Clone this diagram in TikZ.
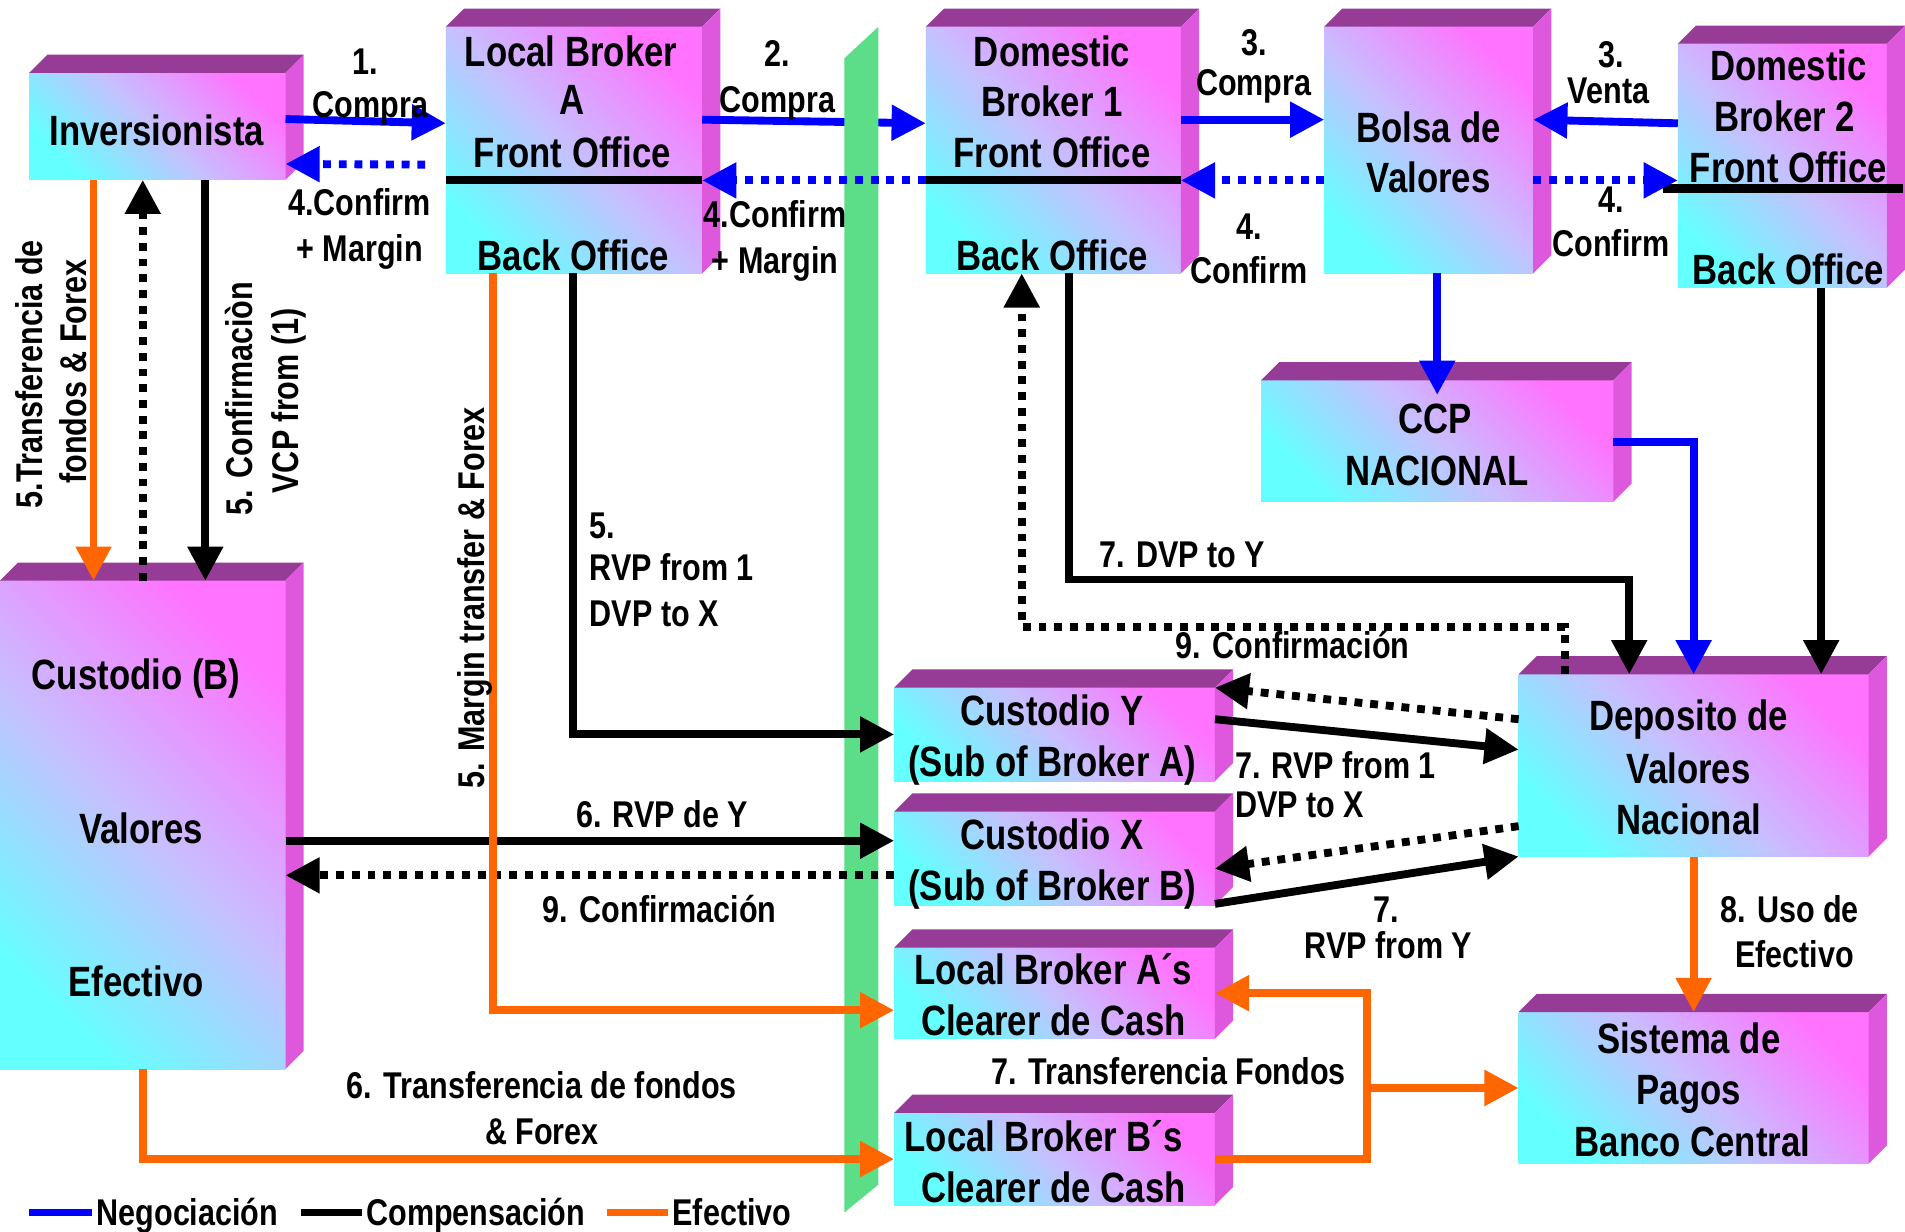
\documentclass[tikz,border=0pt]{standalone}
\usepackage{fontspec}
\setmainfont{Liberation Sans}[FakeStretch=0.82]
\usetikzlibrary{arrows.meta,calc,fit}

\definecolor{topc}{RGB}{150,60,150}
\definecolor{sidec}{RGB}{222,88,222}
\definecolor{cyanc}{RGB}{100,255,255}
\definecolor{lavc}{RGB}{200,190,255}
\definecolor{pinkc}{RGB}{255,115,255}
\definecolor{barc}{RGB}{92,222,137}
\definecolor{negc}{RGB}{0,0,255}
\definecolor{cashc}{RGB}{255,102,0}

\newcommand\bxfont{\fontsize{12.4}{15}\selectfont\bfseries}
\newcommand\lbfont{\fontsize{10.9}{13}\selectfont\bfseries}

% top and right faces of a box node
\newcommand\cubefaces[1]{%
  \fill[topc] (#1.north west) -- ($(#1.north west)+(15,-15)$) -- ($(#1.north east)+(15,-15)$) -- (#1.north east) -- cycle;
  \fill[sidec] (#1.north east) -- ($(#1.north east)+(15,-15)$) -- ($(#1.south east)+(15,-15)$) -- (#1.south east) -- cycle;
}

\begin{document}
\begin{tikzpicture}[x=0.0125cm, y=-0.0125cm,
  boxface/.style={inner sep=0pt, outer sep=0pt, top color=pinkc, bottom color=cyanc, middle color=lavc, shading angle=-45},
  bt/.style={font=\bxfont, inner sep=0pt, text height=8.9pt, text depth=0pt},
  lt/.style={font=\lbfont, inner sep=0pt, text height=7.8pt, text depth=0pt},
  bigtip/.style={-{Triangle[length=10pt,width=10pt]}},
  flow/.style={line width=2.3pt, bigtip},
  negline/.style={flow, draw=negc},
  compline/.style={flow, draw=black},
  cashline/.style={flow, draw=cashc},
  sqdots/.style={dash pattern=on 2.3pt off 2.3pt},
  divider/.style={line width=2.5pt, draw=black},
]
\useasboundingbox (0,0) rectangle (1568,1014);

% ---------- boxes ----------
\node[boxface, fit={(24,60) (235,148)}] (inv) {};       \cubefaces{inv}
\node[boxface, fit={(367,22) (578,225)}] (lba) {};      \cubefaces{lba}
\node[boxface, fit={(762,22) (972,225)}] (db1) {};      \cubefaces{db1}
\node[boxface, fit={(1090,22) (1262,225)}] (bolsa) {};  \cubefaces{bolsa}
\node[boxface, fit={(1381,36) (1553,237)}] (db2) {};    \cubefaces{db2}
\node[boxface, fit={(1038,313) (1328,413)}] (ccp) {};   \cubefaces{ccp}
\node[boxface, fit={(0,478) (235,880)}] (cusb) {};      \cubefaces{cusb}
\node[boxface, fit={(736,566) (1000,643)}] (cusy) {};   \cubefaces{cusy}
\node[boxface, fit={(736,668) (1000,745)}] (cusx) {};   \cubefaces{cusx}
\node[boxface, fit={(736,780) (1000,855)}] (clra) {};   \cubefaces{clra}
\node[boxface, fit={(736,916) (1000,992)}] (clrb) {};   \cubefaces{clrb}
\node[boxface, fit={(1250,555) (1538,705)}] (dep) {};   \cubefaces{dep}
\node[boxface, fit={(1250,833) (1538,958)}] (sis) {};   \cubefaces{sis}

% front / back office dividers
\draw[divider] ($(lba.west)+(0,24.5)$) -- ($(lba.east)+(0,24.5)$);
\draw[divider] ($(db1.west)+(0,24.5)$) -- ($(db1.east)+(0,24.5)$);
\draw[divider] ($(db2.west)+(-12,18.5)$) -- ($(db2.east)+(13,18.5)$);

% ---------- order to the domestic broker (runs behind the border bar) ----------
\draw[negline] ($(lba.east)+(0,-25)$) -- ($(db1.west)+(0,-22)$);

% border bar
\fill[barc] (695,48) -- (723,22) -- (723,975) -- (695,998) -- cycle;

% ---------- trading ----------
\draw[negline] ($(inv.east)+(0,-6)$) -- ($(lba.west)+(0,-22)$);
\draw[negline, sqdots] ($(lba.west)+(-17,12)$) -- ($(inv.east)+(0,31)$);
\draw[negline, sqdots] ($(db1.west)+(0,25)$) -- ($(lba.east)+(0,25)$);
\draw[negline] ($(db1.east)+(0,-25)$) -- ($(bolsa.west)+(0,-25)$);
\draw[negline, sqdots] ($(bolsa.west)+(0,25)$) -- ($(db1.east)+(0,25)$);
\draw[negline] ($(db2.west)+(0,-35)$) -- ($(bolsa.east)+(0,-25)$);
\draw[negline, sqdots] ($(bolsa.east)+(0,25)$) -- ($(db2.west)+(0,12)$);
\draw[negline] ($(bolsa.south)+(7,0)$) -- ($(ccp.north)+(0,12)$);
\draw[negline] ($(ccp.east)+(0,1)$) -| (dep.north);

% ---------- clearing ----------
\draw[compline] ($(inv.south)+(39.5,0)$) -- ($(cusb.north)+(51.5,0)$);
\draw[compline, sqdots] (cusb.north) -- ($(inv.south)+(-12,0)$);
\draw[compline] ($(lba.south)+(-1,0)$) |- (cusy.west);
\draw[compline] ($(cusb.east)+(0,13)$) -- ($(cusx.west)+(0,-14.5)$);
\draw[compline, sqdots] ($(cusx.west)+(0,14)$) -- ($(cusb.east)+(0,41.5)$);
\draw[compline] ($(db1.south)+(13,0)$) -- ++(0,252) -| ($(dep.north)+(-53,0)$);
\draw[compline, sqdots] ($(dep.north)+(-106,0)$) -- ++(0,-39) -| ($(db1.south)+(-26,0)$);
\draw[compline] ($(db2.south)+(32,0)$) -- ($(dep.north)+(105,0)$);
\draw[compline] ($(cusy.east)+(0,-12.5)$) -- ($(dep.west)+(0,-13)$);
\draw[compline, sqdots] ($(dep.west)+(0,-38)$) -- ($(cusy.east)+(0,-38.5)$);
\draw[compline, sqdots] ($(dep.west)+(0,50)$) -- ($(cusx.east)+(0,8.5)$);
\draw[compline] ($(cusx.east)+(0,37.5)$) -- ($(dep.west)+(0,75)$);

% ---------- cash ----------
\draw[cashline] ($(inv.south)+(-52.5,0)$) -- ($(cusb.north)+(-40.5,0)$);
\draw[cashline] ($(lba.south)+(-67,0)$) |- ($(clra.west)+(0,14)$);
\draw[cashline] (cusb.south) |- (clrb.west);
\draw[cashline] (dep.south) -- (sis.north);
\draw[cashline] (clrb.east) -- ++(125,0) |- (clra.east);
\draw[cashline] ($(clrb.east)+(125,0)$) |- (sis.west);

% ---------- box texts ----------
\node[bt] (t1) at (129,107) {Inversionista};
\node[bt] (t2) at (470,42) {Local Broker};
\node[bt] (t3) at (471,82) {A};
\node[bt] (t4) at (471,125) {Front Office};
\node[bt] (t5) at (472,210) {Back Office};
\node[bt] (t6) at (866,42) {Domestic};
\node[bt] (t7) at (866,83) {Broker 1};
\node[bt] (t8) at (866,125) {Front Office};
\node[bt] (t9) at (866,210) {Back Office};
\node[bt] (t10) at (1176,105) {Bolsa de};
\node[bt] (t11) at (1176,146) {Valores};
\node[bt] (t12) at (1472,54) {Domestic};
\node[bt] (t13) at (1469,96) {Broker 2};
\node[bt] (t14) at (1472,138) {Front Office};
\node[bt] (t15) at (1472,222) {Back Office};
\node[bt] (t16) at (1181,344) {CCP};
\node[bt] (t17) at (1183,387) {NACIONAL};
\node[bt] (t18) at (112,555) {Custodio (B)};
\node[bt] (t19) at (116,682) {Valores};
\node[bt] (t20) at (112,808) {Efectivo};
\node[bt] (t21) at (866,585) {Custodio Y};
\node[bt] (t22) at (866,627) {(Sub of Broker A)};
\node[bt] (t23) at (866,687) {Custodio X};
\node[bt] (t24) at (866,729) {(Sub of Broker B)};
\node[bt] (t25) at (867,798) {Local Broker A´s};
\node[bt] (t26) at (867,840) {Clearer de Cash};
\node[bt] (t27) at (859,935) {Local Broker B´s};
\node[bt] (t28) at (867,977) {Clearer de Cash};
\node[bt] (t29) at (1390,589) {Deposito de};
\node[bt] (t30) at (1390,632) {Valores};
\node[bt] (t31) at (1390,674) {Nacional};
\node[bt] (t32) at (1390,855) {Sistema de};
\node[bt] (t33) at (1390,897) {Pagos};
\node[bt] (t34) at (1393,939) {Banco Central};

% ---------- flow labels ----------
\node[lt] (l1) at (301,50) {1.};
\node[lt] (l2) at (305,86) {Compra};
\node[lt] (l3) at (296,166) {4.Confirm};
\node[lt] (l4) at (296,204) {+ Margin};
\node[lt] (l5) at (640,44) {2.};
\node[lt] (l6) at (640,82) {Compra};
\node[lt] (l7) at (638,176) {4.Confirm};
\node[lt] (l8) at (638,214) {+ Margin};
\node[lt] (l9) at (1032,35) {3.};
\node[lt] (l10) at (1032,68) {Compra};
\node[lt] (l11) at (1028,186) {4.};
\node[lt] (l12) at (1028,222) {Confirm};
\node[lt] (l13) at (1326,45) {3.};
\node[lt] (l14) at (1324,74) {Venta};
\node[lt] (l15) at (1326,164) {4.};
\node[lt] (l16) at (1326,200) {Confirm};
\node[lt, rotate=90] (l17) at (24,308) {5.Transferencia de};
\node[lt, rotate=90] (l18) at (60,306) {fondos \& Forex};
\node[lt, rotate=90] (l19) at (197,328) {5. Confirmaciòn};
\node[lt, rotate=90] (l20) at (235,330) {VCP from (1)};
\node[lt, rotate=90] (l21) at (388,492) {5. Margin transfer \& Forex};
\node[lt, anchor=west] (l22) at (485,432) {5.};
\node[lt, anchor=west] (l23) at (485,467) {RVP from 1};
\node[lt, anchor=west] (l24) at (485,505) {DVP to X};
\node[lt] (l25) at (545,670) {6. RVP de Y};
\node[lt] (l26) at (543,748) {9. Confirmación};
\node[lt] (l27) at (446,893) {6. Transferencia de fondos};
\node[lt] (l28) at (446,931) {\& Forex};
\node[lt] (l29) at (973,456) {7. DVP to Y};
\node[lt] (l30) at (1064,531) {9. Confirmación};
\node[lt, anchor=west] (l31) at (1016,630) {7. RVP from 1};
\node[lt, anchor=west] (l32) at (1016,662) {DVP to X};
\node[lt] (l33) at (1141,748) {7.};
\node[lt] (l34) at (1143,778) {RVP from Y};
\node[lt] (l35) at (1473,748) {8. Uso de};
\node[lt] (l36) at (1477,785) {Efectivo};
\node[lt] (l37) at (962,882) {7. Transferencia Fondos};

% ---------- legend ----------
\draw[line width=2.3pt, negc] (24,998) -- (76,998);
\node[lt, anchor=west] (g1) at (79,998) {Negociación};
\draw[line width=2.3pt, black] (248,998) -- (298,998);
\node[lt, anchor=west] (g2) at (301,998) {Compensación};
\draw[line width=2.3pt, cashc] (500,998) -- (550,998);
\node[lt, anchor=west] (g3) at (553,998) {Efectivo};
\end{tikzpicture}
\end{document}
